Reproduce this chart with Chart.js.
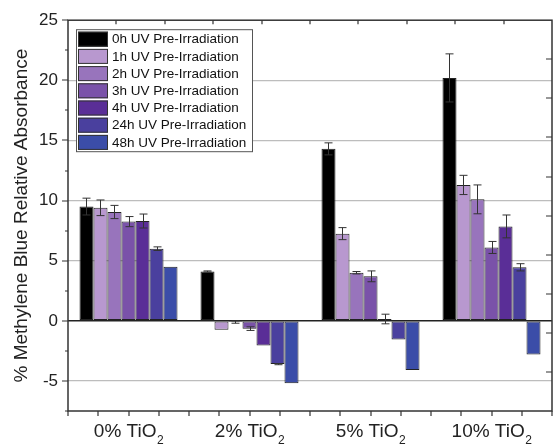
<!DOCTYPE html>
<html><head><meta charset="utf-8">
<script src="https://cdn.jsdelivr.net/npm/chart.js@4/dist/chart.umd.min.js"></script>
<style>html,body{margin:0;padding:0;background:#fff}#wrap{width:554px;height:446px}</style>
</head><body><div id="wrap"><canvas id="c" width="554" height="446"></canvas></div>
<script>
const categories = ['0% TiO₂', '2% TiO₂', '5% TiO₂', '10% TiO₂'];
const seriesNames = ['0h UV Pre-Irradiation', '1h UV Pre-Irradiation', '2h UV Pre-Irradiation',
  '3h UV Pre-Irradiation', '4h UV Pre-Irradiation', '24h UV Pre-Irradiation', '48h UV Pre-Irradiation'];
const seriesColors = ['#000000', '#b898cf', '#9874bc', '#7a52a9', '#5a2e97', '#4a409e', '#3b4da8'];

const uv0h  = [9.5, 4.1, 14.3, 20.2];
const uv1h  = [9.4, -0.75, 7.25, 11.3];
const uv2h  = [9.05, -0.1, 4.0, 10.1];
const uv3h  = [8.25, -0.65, 3.7, 6.1];
const uv4h  = [8.3, -2.05, 0.15, 7.85];
const uv24h = [6.0, -3.6, -1.55, 4.45];
const uv48h = [4.5, -5.2, -4.1, -2.8];

const err0h  = [0.7, 0.05, 0.5, 2.0];
const err1h  = [0.65, 0, 0.5, 0.8];
const err2h  = [0.55, 0.1, 0.1, 1.2];
const err3h  = [0.42, 0.15, 0.45, 0.5];
const err4h  = [0.58, 0, 0.4, 0.95];
const err24h = [0.15, 0.05, 0, 0.3];
const err48h = [0, 0, 0, 0];

const yTickValues = [-5, 0, 5, 10, 15, 20, 25];
const yMin = -7.5, yMax = 25;

const seriesValues = [uv0h, uv1h, uv2h, uv3h, uv4h, uv24h, uv48h];
const seriesErrors = [err0h, err1h, err2h, err3h, err4h, err24h, err48h];

const FONT = "Arial, 'Liberation Sans', sans-serif";
const AXIS = '#333333';

const datasets = seriesNames.map((n, i) => ({
  label: n,
  data: seriesValues[i],
  errors: seriesErrors[i],
  backgroundColor: seriesColors[i],
  borderColor: '#222',
  borderWidth: 1,
  borderSkipped: false,
  barPercentage: 1,
  categoryPercentage: 0.81
}));

const decor = {
  id: 'decor',
  afterDatasetsDraw(chart) {
    const ctx = chart.ctx, y = chart.scales.y;
    ctx.save();
    ctx.strokeStyle = '#333';
    ctx.lineWidth = 1;
    chart.data.datasets.forEach((ds, di) => {
      const meta = chart.getDatasetMeta(di);
      meta.data.forEach((bar, i) => {
        const e = ds.errors[i];
        if (!e) return;
        const v = ds.data[i];
        const y1 = y.getPixelForValue(v + e), y2 = y.getPixelForValue(v - e);
        const xc = Math.round(bar.x) + 0.5;
        ctx.beginPath();
        ctx.moveTo(xc, y1); ctx.lineTo(xc, y2);
        ctx.moveTo(xc - 4, y1); ctx.lineTo(xc + 4, y1);
        ctx.moveTo(xc - 4, y2); ctx.lineTo(xc + 4, y2);
        ctx.stroke();
      });
    });
    ctx.restore();
  },
  afterDraw(chart) {
    const ctx = chart.ctx;
    const {left, right, top, bottom} = chart.chartArea;
    const x = chart.scales.x, y = chart.scales.y;
    ctx.save();
    ctx.strokeStyle = AXIS;
    ctx.lineWidth = 1.5;
    ctx.strokeRect(left, top, right - left, bottom - top);
    ctx.lineWidth = 1.2;
    ctx.beginPath();
    for (let k = 0; k <= 16; k++) {
      const px = Math.round(x.getPixelForValue(-0.5 + k / 4));
      ctx.moveTo(px, bottom); ctx.lineTo(px, bottom + 5);
    }
    for (let k = 1; k < 10; k++) {
      const px = Math.round(left + (right - left) * k / 10);
      ctx.moveTo(px, top); ctx.lineTo(px, top + 4);
    }
    for (let k = 1; k < 10; k++) {
      const py = Math.round(top + (bottom - top) * k / 10);
      ctx.moveTo(right, py); ctx.lineTo(right - 6, py);
    }
    for (let v = yMin; v <= yMax; v += 2.5) {
      const py = Math.round(y.getPixelForValue(v));
      const major = Math.abs(v % 5) < 1e-6;
      ctx.moveTo(left, py); ctx.lineTo(left - (major ? 6 : 3), py);
    }
    ctx.stroke();

    // x labels with subscript
    ctx.fillStyle = '#222';
    ctx.textBaseline = 'alphabetic';
    chart.data.labels.forEach((lab, i) => {
      const px = x.getPixelForValue(i);
      const hasSub = lab.endsWith('₂');
      const main = hasSub ? lab.slice(0, -1) : lab;
      const sub = hasSub ? '2' : '';
      ctx.font = '19px ' + FONT;
      const w1 = ctx.measureText(main).width;
      ctx.font = '12px ' + FONT;
      const w2 = ctx.measureText(sub).width;
      const x0 = px - (w1 + w2) / 2;
      ctx.font = '19px ' + FONT;
      ctx.fillText(main, x0, 437);
      ctx.font = '12px ' + FONT;
      ctx.fillText(sub, x0 + w1 + 0.5, 444);
    });

    // legend
    const lx = left + 8, ly = top + 9, lw = 176, lh = 122;
    ctx.fillStyle = '#fff';
    ctx.fillRect(lx, ly, lw, lh);
    ctx.lineWidth = 1;
    ctx.strokeStyle = '#555';
    ctx.strokeRect(lx + 0.5, ly + 0.5, lw, lh);
    ctx.font = '13.5px ' + FONT;
    ctx.textBaseline = 'middle';
    chart.data.datasets.forEach((ds, i) => {
      const cy = ly + 9.5 + i * 17.2;
      ctx.fillStyle = ds.backgroundColor;
      ctx.fillRect(lx + 2, cy - 7, 30, 15);
      ctx.strokeStyle = '#333';
      ctx.strokeRect(lx + 2.5, cy - 6.5, 29, 14);
      ctx.fillStyle = '#111';
      ctx.fillText(ds.label, lx + 36, cy + 1);
    });
    ctx.restore();
  }
};

new Chart(document.getElementById('c'), {
  type: 'bar',
  data: { labels: categories, datasets },
  plugins: [decor],
  options: {
    responsive: false,
    animation: false,
    layout: { padding: { top: 19, right: 2, left: 0, bottom: 0 } },
    plugins: { legend: { display: false }, tooltip: { enabled: false } },
    scales: {
      x: {
        grid: { display: false },
        border: { display: false },
        ticks: { display: false },
        afterFit(s) { s.height = 35; }
      },
      y: {
        min: yMin, max: yMax,
        afterBuildTicks(s) { s.ticks = yTickValues.map(v => ({ value: v })); },
        border: { display: false },
        grid: {
          drawTicks: false,
          color: c => c.tick.value === 0 ? '#222' : (c.tick.value === yMax ? 'rgba(0,0,0,0)' : '#bdbdbd'),
          lineWidth: c => c.tick.value === 0 ? 1.5 : 1.2
        },
        ticks: { padding: 10, color: '#222', font: { size: 17, family: FONT } },
        title: { display: true, text: '% Methylene Blue Relative Absorbance', color: '#222',
                 font: { size: 19, family: FONT }, padding: { top: 10, bottom: 0 } },
        afterFit(s) { s.width = 68; }
      }
    }
  }
});
</script></body></html>
